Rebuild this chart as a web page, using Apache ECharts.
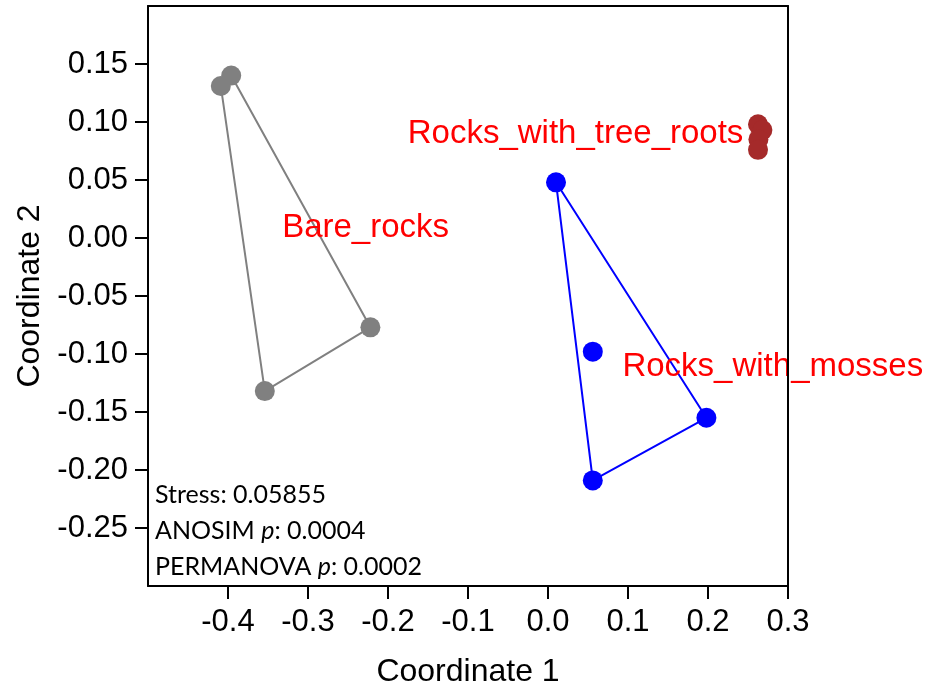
<!DOCTYPE html>
<html>
<head>
<meta charset="utf-8">
<script src="https://cdn.jsdelivr.net/npm/echarts@6/dist/echarts.min.js"></script>
<style>html,body{margin:0;padding:0;background:#fff}#c{width:930px;height:693px}</style>
</head>
<body>
<div id="c"></div>
<script>
// Data (Coordinate 1, Coordinate 2)
const bareRocks = [[-0.396, 0.140], [-0.409, 0.131], [-0.354, -0.132], [-0.222, -0.077]];
const bareHull = [1, 2, 3, 0, 1];
const mosses = [[0.010, 0.048], [0.056, -0.098], [0.056, -0.209], [0.198, -0.155]];
const mossHull = [0, 2, 3, 0];
const treeRoots = [[0.2625, 0.098], [0.268, 0.093], [0.263, 0.085], [0.2625, 0.076]];
const groupLabels = [
  { name: 'Bare_rocks', pos: [-0.228, 0.009] },
  { name: 'Rocks_with_tree_roots', pos: [0.0344, 0.0895] },
  { name: 'Rocks_with_mosses', pos: [0.281, -0.111] }
];
const xTicks = [-0.4, -0.3, -0.2, -0.1, 0.0, 0.1, 0.2, 0.3];
const yTicks = [-0.25, -0.2, -0.15, -0.1, -0.05, 0.0, 0.05, 0.1, 0.15];
const stats = ['Stress: 0.05855', 'ANOSIM {i|p}: 0.0004', 'PERMANOVA {i|p}: 0.0002'];

const chart = echarts.init(document.getElementById('c'), null, { renderer: 'canvas' });
const axisFont = 'Liberation Sans, Arial, Helvetica, sans-serif';
const statFont = 'Lato, "Open Sans", sans-serif';

function hullLine(pts, order) { return order.map(i => pts[i]); }

const frameAxis = {
  type: 'value', z: 20,
  axisLine: { show: true, onZero: false, lineStyle: { color: '#000', width: 2 } },
  axisTick: { show: false }, axisLabel: { show: false }, splitLine: { show: false }
};

const option = {
  animation: false,
  backgroundColor: '#fff',
  grid: { left: 148, right: 142, top: 6, bottom: 104, show: false },
  xAxis: [{
    type: 'value', min: -0.5, max: 0.3, z: 20,
    name: 'Coordinate 1', nameLocation: 'middle', nameGap: 70,
    nameTextStyle: { fontFamily: axisFont, fontSize: 32, color: '#000' },
    axisLine: { show: true, onZero: false, lineStyle: { color: '#000', width: 2 } },
    axisTick: { show: true, length: 13, customValues: xTicks, lineStyle: { color: '#000', width: 2 } },
    axisLabel: { customValues: xTicks, fontFamily: axisFont, fontSize: 31, color: '#000', margin: 21,
      formatter: v => v.toFixed(1) },
    splitLine: { show: false }
  }, Object.assign({}, frameAxis, { position: 'top', min: -0.5, max: 0.3 })],
  yAxis: [{
    type: 'value', min: -0.3, max: 0.2, z: 20,
    name: 'Coordinate 2', nameLocation: 'middle', nameGap: 97,
    nameTextStyle: { fontFamily: axisFont, fontSize: 32, color: '#000' },
    axisLine: { show: true, onZero: false, lineStyle: { color: '#000', width: 2 } },
    axisTick: { show: true, length: 13, customValues: yTicks, lineStyle: { color: '#000', width: 2 } },
    axisLabel: { customValues: yTicks, fontFamily: axisFont, fontSize: 31, color: '#000', margin: 20,
      formatter: v => v.toFixed(2) },
    splitLine: { show: false }
  }, Object.assign({}, frameAxis, { position: 'right', min: -0.3, max: 0.2 })],
  series: [
    { type: 'line', data: hullLine(bareRocks, bareHull), symbol: 'none', lineStyle: { color: '#808080', width: 2 }, z: 2 },
    { type: 'line', data: hullLine(mosses, mossHull), symbol: 'none', lineStyle: { color: '#0000ff', width: 2 }, z: 2 },
    { type: 'scatter', data: bareRocks, symbolSize: 20, itemStyle: { color: '#808080', opacity: 1 }, z: 3 },
    { type: 'scatter', data: mosses, symbolSize: 20, itemStyle: { color: '#0000ff', opacity: 1 }, z: 3 },
    { type: 'scatter', data: treeRoots, symbolSize: 20, itemStyle: { color: '#a52a2a', opacity: 1 }, z: 3 },
    { type: 'scatter', data: groupLabels.map(g => ({ name: g.name, value: g.pos })), symbolSize: 1, z: 4,
      itemStyle: { color: 'rgba(0,0,0,0)', opacity: 1 }, silent: true,
      label: { show: true, position: 'inside', formatter: p => p.name, color: '#ff0000', opacity: 1,
        fontFamily: axisFont, fontSize: 33, align: 'center', verticalAlign: 'middle' } }
  ],
  graphic: stats.map((s, i) => ({
    type: 'text', left: 155, top: 482 + i * 36, z: 10,
    style: { text: s, fill: '#000', font: '25px ' + statFont,
      rich: { i: { fontStyle: 'italic', fontFamily: statFont, fontSize: 25, fill: '#000' } } }
  }))
};
chart.setOption(option);
</script>
</body>
</html>
